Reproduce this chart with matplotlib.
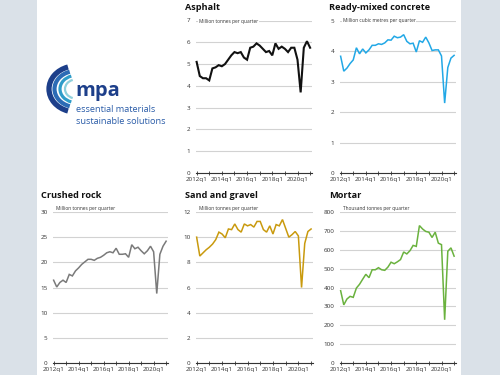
import numpy as np
import matplotlib
matplotlib.use("Agg")
from matplotlib import pyplot as plt
from matplotlib.patches import Rectangle, Arc

plt.rcParams['font.family'] = ['Open Sans', 'DejaVu Sans']

# quarters 2012q1 .. 2021q1
quarters = [f"{y}q{q}" for y in range(2012, 2022) for q in range(1, 5)][:37]
tick_labels = ['2012q1', '2014q1', '2016q1', '2018q1', '2020q1']

asphalt = [5.1, 4.45, 4.35, 4.35, 4.25, 4.8, 4.85, 4.95, 4.9, 5.0, 5.2, 5.4, 5.55,
           5.5, 5.55, 5.3, 5.2, 5.75, 5.8, 5.95, 5.85, 5.7, 5.55, 5.6, 5.4, 5.95,
           5.7, 5.8, 5.7, 5.55, 5.75, 5.75, 5.2, 3.7, 5.75, 6.05, 5.75]
ready_mixed = [3.84, 3.35, 3.45, 3.6, 3.72, 4.12, 3.92, 4.08, 3.95, 4.05, 4.2, 4.2,
               4.25, 4.23, 4.28, 4.38, 4.37, 4.5, 4.45, 4.47, 4.55, 4.33, 4.25, 4.27,
               3.98, 4.35, 4.3, 4.47, 4.28, 4.03, 4.05, 4.05, 3.85, 2.3, 3.47, 3.78, 3.87]
crushed_rock = [16.45, 15.1, 16.0, 16.45, 16.0, 17.6, 17.3, 18.3, 18.9, 19.6, 20.1,
                20.6, 20.6, 20.4, 20.8, 21.0, 21.4, 21.9, 22.1, 21.9, 22.8, 21.6, 21.6,
                21.7, 21.0, 23.5, 22.7, 23.0, 22.3, 21.7, 22.3, 23.2, 22.1, 13.8, 21.6,
                23.2, 24.2]
sand_gravel = [10.0, 8.5, 8.75, 9.0, 9.2, 9.45, 9.8, 10.4, 10.25, 9.95, 10.65, 10.6,
               11.05, 10.6, 10.4, 11.05, 10.9, 11.0, 10.8, 11.25, 11.25, 10.6, 10.4,
               10.9, 10.25, 11.0, 10.9, 11.4, 10.7, 10.0, 10.2, 10.45, 10.1, 6.0, 9.5,
               10.45, 10.65]
mortar = [383, 308, 339, 353, 348, 397, 417, 444, 470, 452, 494, 494, 505, 494, 491,
          508, 534, 526, 536, 548, 588, 578, 595, 623, 618, 728, 710, 697, 693, 665,
          693, 635, 627, 229, 592, 610, 566]

W, H = 500, 375
fig = plt.figure(figsize=(5, 3.75), dpi=100, facecolor='#dae1e8')
bg = fig.add_axes([37 / W, 0, (461 - 37) / W, 1], zorder=-10)
bg.axis('off')
bg.add_patch(Rectangle((0, 0), 1, 1, transform=bg.transAxes, facecolor='white', edgecolor='none'))


def panel(x0, x1, ytop, ybot, values, ymax, ystep, color, title, tx, ty, unit, uoff, lw=1.1):
    ax = fig.add_axes([x0 / W, 1 - ybot / H, (x1 - x0) / W, (ybot - ytop) / H])
    ax.set_facecolor('none')
    x = np.arange(len(values))
    ax.plot(x, values, color=color, lw=lw, solid_joinstyle='miter', zorder=3, clip_on=False)
    ax.set_xlim(-0.2, 36.6)
    ax.set_ylim(0, ymax)
    ax.set_yticks(np.arange(0, ymax + ystep / 2, ystep))
    ax.yaxis.grid(True, color='#d2d2d2', lw=0.8)
    ax.set_axisbelow(True)
    for s in ['left', 'right', 'top']:
        ax.spines[s].set_visible(False)
    ax.spines['bottom'].set_color('#333333')
    ax.spines['bottom'].set_linewidth(0.8)
    ax.set_xticks([0, 8, 16, 24, 32])
    ax.set_xticklabels(tick_labels)
    ax.set_xticks([4, 12, 20, 28, 36], minor=True)
    ax.tick_params(axis='x', which='both', direction='inout', length=3, width=0.6,
                   color='#333333', labelsize=4.5, pad=1.5, labelcolor='#333333')
    ax.tick_params(axis='y', length=0, labelsize=4.5, pad=4, labelcolor='#333333')
    ax.annotate(unit, xy=(0, 1), xycoords='axes fraction', xytext=(2, uoff),
                textcoords='offset points', fontsize=3.5, color='#333333', va='bottom',
                bbox=dict(facecolor='white', edgecolor='none', pad=0.6))
    fig.text(tx / W, 1 - ty / H, title, fontsize=6.6, fontweight='bold', color='#111111',
             va='center', ha='left')
    return ax


panel(196, 312, 20.5, 173, asphalt, 7, 1, '#111111', 'Asphalt', 185, 7,
      'Million tonnes per quarter', -2.5, lw=1.5)
panel(340, 456, 21, 173, ready_mixed, 5, 1, '#22a8e6', 'Ready-mixed concrete', 329, 7,
      'Million cubic metres per quarter', -1.5)
panel(53, 168, 212, 363, crushed_rock, 30, 5, '#7a7a7a', 'Crushed rock', 41, 196,
      'Million tonnes per quarter', 1)
panel(196, 313, 212, 363, sand_gravel, 12, 2, '#c99a0e', 'Sand and gravel', 185, 196,
      'Million tonnes per quarter', 1)
panel(340, 456, 212, 363, mortar, 800, 100, '#6ab23e', 'Mortar', 329, 196,
      'Thousand tonnes per quarter', 1)

# logo
lax = fig.add_axes([40 / W, 1 - 130 / H, 140 / W, 70 / H])
lax.set_xlim(40, 180)
lax.set_ylim(130, 60)
lax.axis('off')
arcs = [(27, 23, '#1d3f8a', 3.8), (21.5, 18, '#2c6bb5', 3.0), (16, 13.5, '#2f9cc9', 2.3),
        (11, 9.5, '#8fd0dc', 1.6)]
for rx, ry, c, w in arcs:
    lax.add_patch(Arc((76, 89), 2 * rx, 2 * ry, theta1=110, theta2=250, color=c, lw=w))
lax.text(75, 91, 'mpa', fontsize=14.5, fontweight='bold', color='#1d3f8a', va='center', ha='left')
lax.text(76, 109, 'essential materials', fontsize=6.6, color='#2a5ca8', va='center', ha='left')
lax.text(76, 121, 'sustainable solutions', fontsize=6.6, color='#2a5ca8', va='center', ha='left')

fig.savefig('out.png', dpi=100, facecolor=fig.get_facecolor())
